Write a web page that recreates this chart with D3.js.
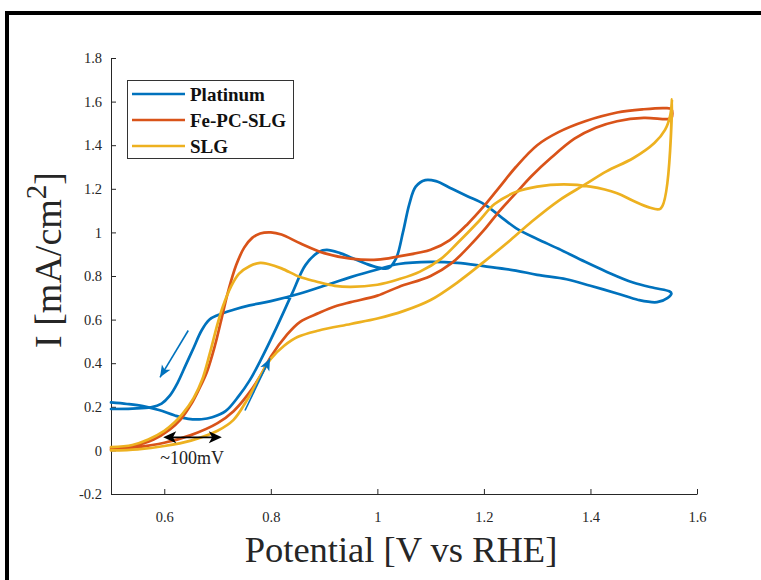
<!DOCTYPE html>
<html>
<head>
<meta charset="utf-8">
<script src="https://cdn.jsdelivr.net/npm/d3@7"></script>
<style>
  html, body { margin: 0; padding: 0; background: #fff; }
  svg { display: block; }
  text { font-family: "Liberation Serif", "DejaVu Serif", serif; }
</style>
</head>
<body>
<svg id="chart" width="761" height="580"></svg>
<script>
// ---------- data ----------
const seriesNames = ["Platinum", "Fe-PC-SLG", "SLG"];
const seriesColors = ["#0072BD", "#D95319", "#EDB120"];

// Each series: one closed CV sweep, [potential V vs RHE, current mA/cm2]
const platinum = [
  [0.50,0.22],[0.53,0.213],[0.56,0.203],[0.59,0.185],[0.62,0.16],[0.645,0.145],[0.67,0.143],
  [0.69,0.152],[0.715,0.18],[0.74,0.25],[0.76,0.32],[0.78,0.41],[0.81,0.56],[0.84,0.72],
  [0.865,0.85],[0.89,0.91],[0.905,0.92],[0.93,0.905],[0.95,0.885],[0.98,0.855],[1.00,0.84],
  [1.02,0.835],[1.035,0.88],[1.048,1.00],[1.06,1.13],[1.072,1.21],[1.09,1.24],[1.11,1.235],
  [1.14,1.20],[1.17,1.165],[1.20,1.13],[1.23,1.075],[1.26,1.02],[1.30,0.97],[1.34,0.925],
  [1.39,0.865],[1.43,0.82],[1.48,0.77],[1.52,0.745],[1.548,0.73],
  [1.552,0.72],[1.545,0.70],[1.525,0.68],[1.49,0.69],[1.45,0.72],[1.40,0.755],[1.355,0.785],
  [1.30,0.805],[1.26,0.825],[1.20,0.845],[1.15,0.86],[1.10,0.865],[1.04,0.855],[1.00,0.83],
  [0.95,0.795],[0.90,0.755],[0.855,0.72],[0.80,0.685],[0.76,0.665],[0.73,0.645],[0.70,0.62],
  [0.685,0.60],[0.67,0.55],[0.655,0.47],[0.64,0.39],[0.625,0.31],[0.61,0.25],[0.595,0.215],
  [0.575,0.198],[0.54,0.192],[0.50,0.19]
];

const fePcSlg = [
  [0.50,0.005],[0.55,0.015],[0.60,0.035],[0.65,0.07],[0.70,0.125],[0.73,0.18],[0.755,0.25],
  [0.78,0.34],[0.80,0.43],[0.83,0.53],[0.855,0.59],[0.89,0.63],[0.92,0.66],[0.95,0.68],
  [1.00,0.71],[1.04,0.75],[1.10,0.80],[1.14,0.86],[1.17,0.93],[1.20,1.01],[1.23,1.10],
  [1.26,1.18],[1.29,1.26],[1.325,1.34],[1.37,1.43],[1.41,1.48],[1.45,1.51],[1.50,1.525],
  [1.545,1.52],[1.552,1.525],[1.552,1.565],
  [1.54,1.57],[1.50,1.565],[1.45,1.55],[1.39,1.51],[1.34,1.46],[1.30,1.40],[1.26,1.30],
  [1.23,1.21],[1.20,1.12],[1.17,1.04],[1.136,0.965],[1.10,0.92],[1.04,0.89],[1.00,0.875],
  [0.95,0.88],[0.90,0.905],[0.855,0.95],[0.82,0.99],[0.80,1.00],[0.78,0.995],[0.765,0.975],
  [0.75,0.93],[0.735,0.85],[0.72,0.73],[0.71,0.63],[0.695,0.48],[0.68,0.36],[0.665,0.28],
  [0.65,0.21],[0.63,0.14],[0.61,0.095],[0.58,0.05],[0.54,0.02],[0.50,0.01]
];

const slg = [
  [0.50,0.00],[0.55,0.005],[0.60,0.02],[0.65,0.045],[0.70,0.09],[0.73,0.14],[0.755,0.23],
  [0.78,0.34],[0.80,0.42],[0.825,0.48],[0.85,0.52],[0.89,0.55],[0.95,0.58],[1.00,0.605],
  [1.05,0.64],[1.10,0.69],[1.15,0.77],[1.20,0.865],[1.25,0.965],[1.29,1.05],[1.34,1.145],
  [1.39,1.22],[1.43,1.28],[1.48,1.34],[1.52,1.41],[1.54,1.47],[1.55,1.54],[1.553,1.61],
  [1.532,1.11],
  [1.51,1.115],[1.48,1.145],[1.45,1.18],[1.40,1.21],[1.35,1.22],[1.30,1.21],[1.26,1.185],
  [1.22,1.13],[1.19,1.05],[1.15,0.95],[1.12,0.88],[1.08,0.82],[1.04,0.785],[1.00,0.76],
  [0.95,0.75],[0.92,0.755],[0.885,0.775],[0.855,0.795],[0.82,0.835],[0.795,0.855],[0.78,0.86],
  [0.76,0.845],[0.74,0.81],[0.725,0.75],[0.71,0.66],[0.70,0.58],[0.685,0.44],[0.672,0.33],
  [0.655,0.24],[0.635,0.17],[0.62,0.13],[0.60,0.09],[0.57,0.05],[0.54,0.025],[0.50,0.015]
];

const potentialTicks = [0.6, 0.8, 1, 1.2, 1.4, 1.6];
const currentTicks = [-0.2, 0, 0.2, 0.4, 0.6, 0.8, 1, 1.2, 1.4, 1.6, 1.8];
const potentialDomain = [0.5, 1.6];
const currentDomain = [-0.2, 1.8];

// annotations, in data units
const sweepArrows = [
  { from: [0.645, 0.55], to: [0.592, 0.335] },
  { from: [0.7515, 0.183], to: [0.7985, 0.422] }
];
const shiftArrow = { from: [0.598, 0.06], to: [0.708, 0.06] };
const shiftLabel = { text: "~100mV", at: [0.6525, -0.064] };

// ---------- drawing ----------
const svg = d3.select("#chart");
const x = d3.scaleLinear().domain(potentialDomain).range([111, 697]);
const y = d3.scaleLinear().domain(currentDomain).range([494, 58]);
const axisColor = "#262626";

// outer frame
svg.append("rect")
  .attr("x", 7).attr("y", 13).attr("width", 770).attr("height", 590)
  .attr("fill", "none").attr("stroke", "#000").attr("stroke-width", 4);

// axes
const xAxis = svg.append("g")
  .attr("transform", `translate(0,${y(currentDomain[0])})`)
  .call(d3.axisBottom(x).tickValues(potentialTicks).tickSizeInner(-5).tickSizeOuter(0)
        .tickPadding(18).tickFormat(d => String(d)));
const yAxis = svg.append("g")
  .attr("transform", `translate(${x(potentialDomain[0])},0)`)
  .call(d3.axisLeft(y).tickValues(currentTicks).tickSizeInner(-5).tickSizeOuter(0)
        .tickPadding(9).tickFormat(d => String(d)));
[xAxis, yAxis].forEach(g => {
  g.selectAll("path, line").attr("stroke", axisColor).attr("stroke-width", 1);
  g.selectAll("text").attr("fill", axisColor)
    .style("font-family", '"Liberation Serif", serif').style("font-size", "14.5px");
});

// curves
const line = d3.line()
  .x(d => x(d[0])).y(d => y(d[1]))
  .curve(d3.curveCatmullRom.alpha(0.5));
const allSeries = [platinum, fePcSlg, slg];
svg.append("g").selectAll("path")
  .data(allSeries)
  .join("path")
  .attr("d", d => line(d))
  .attr("fill", "none")
  .attr("stroke", (d, i) => seriesColors[i])
  .attr("stroke-width", 2.7)
  .attr("stroke-linejoin", "round")
  .attr("stroke-linecap", "round");

// arrow helper: head at point b
function arrowHead(ax, ay, bx, by, len, half) {
  const dx = bx - ax, dy = by - ay, L = Math.hypot(dx, dy);
  const ux = dx / L, uy = dy / L;
  const px = -uy, py = ux;
  const baseX = bx - ux * len, baseY = by - uy * len;
  return `M${bx},${by}L${baseX + px * half},${baseY + py * half}` +
         `L${baseX + ux * len * 0.25},${baseY + uy * len * 0.25}` +
         `L${baseX - px * half},${baseY - py * half}Z`;
}

// blue sweep-direction arrows
const ann = svg.append("g");
sweepArrows.forEach(a => {
  const ax = x(a.from[0]), ay = y(a.from[1]), bx = x(a.to[0]), by = y(a.to[1]);
  ann.append("line").attr("x1", ax).attr("y1", ay).attr("x2", bx).attr("y2", by)
    .attr("stroke", "#0072BD").attr("stroke-width", 1.6);
  ann.append("path").attr("d", arrowHead(ax, ay, bx, by, 12, 5)).attr("fill", "#0072BD");
});

// black double arrow
{
  const ax = x(shiftArrow.from[0]), ay = y(shiftArrow.from[1]);
  const bx = x(shiftArrow.to[0]), by = y(shiftArrow.to[1]);
  ann.append("line").attr("x1", ax + 6).attr("y1", ay).attr("x2", bx - 6).attr("y2", by)
    .attr("stroke", "#000").attr("stroke-width", 1.8);
  ann.append("path").attr("d", arrowHead(ax, ay, bx, by, 13, 6)).attr("fill", "#000");
  ann.append("path").attr("d", arrowHead(bx, by, ax, ay, 13, 6)).attr("fill", "#000");
  ann.append("text").attr("x", x(shiftLabel.at[0])).attr("y", y(shiftLabel.at[1]))
    .attr("text-anchor", "middle").attr("fill", "#222")
    .style("font-size", "18px").text(shiftLabel.text);
}

// legend
const legend = svg.append("g");
legend.append("rect").attr("x", 127.5).attr("y", 80.5).attr("width", 166).attr("height", 78)
  .attr("fill", "#fff").attr("stroke", "#333").attr("stroke-width", 1);
seriesNames.forEach((name, i) => {
  const cy = 94 + i * 26;
  legend.append("line").attr("x1", 132).attr("x2", 185).attr("y1", cy).attr("y2", cy)
    .attr("stroke", seriesColors[i]).attr("stroke-width", 2.7);
  legend.append("text").attr("x", 190).attr("y", cy + 6.5)
    .attr("fill", "#111").style("font-size", "19px").style("font-weight", "bold").text(name);
});

// axis labels
svg.append("text")
  .attr("x", 401).attr("y", 562).attr("text-anchor", "middle")
  .attr("fill", axisColor).style("font-size", "36.5px")
  .text("Potential [V vs RHE]");

const yl = svg.append("text")
  .attr("transform", `translate(61,260) rotate(-90)`)
  .attr("text-anchor", "middle").attr("fill", axisColor).style("font-size", "38px");
yl.append("tspan").text("I [mA/cm");
yl.append("tspan").attr("dy", -15).style("font-size", "29px").text("2");
yl.append("tspan").attr("dy", 15).text("]");
</script>
</body>
</html>
